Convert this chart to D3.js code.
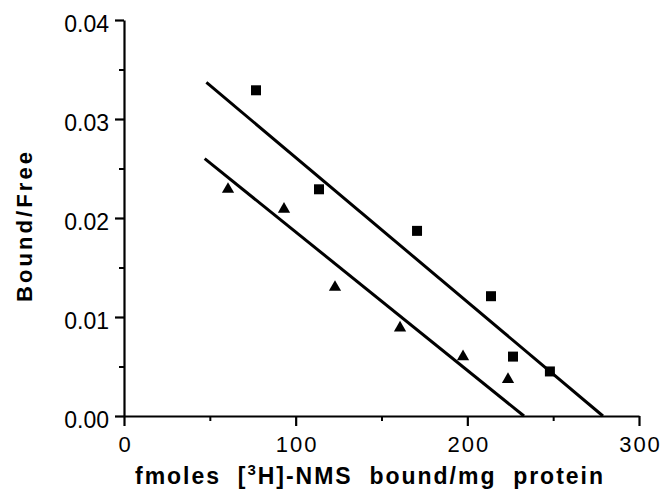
<!DOCTYPE html>
<html>
<head>
<meta charset="utf-8">
<script src="https://cdn.jsdelivr.net/npm/d3@7"></script>
<style>
  html, body { margin: 0; padding: 0; background: #fff; }
  svg { display: block; }
  text { font-family: "Liberation Sans", Arial, Helvetica, sans-serif; fill: #000; }
</style>
</head>
<body>
<svg id="chart" width="662" height="491"></svg>
<script>
// ---- data ----
const squareX = [76.9, 113.6, 170.7, 213.8, 226.6, 248.1];
const squareY = [0.0329, 0.0229, 0.0187, 0.0121, 0.0060, 0.0045];
const triangleX = [60.6, 93.2, 122.9, 160.8, 197.5, 223.7];
const triangleY = [0.0229, 0.0209, 0.0130, 0.0089, 0.0060, 0.0037];
const upperLineX = [48, 279];
const upperLineY = [0.0337, 0];
const lowerLineX = [47, 233];
const lowerLineY = [0.0260, 0];
const xTicks = [0, 100, 200, 300];
const xMinorTicks = [50, 150, 250];
const yTicks = [0, 0.01, 0.02, 0.03, 0.04];
const yMinorTicks = [0.005, 0.015, 0.025, 0.035];
const yTickLabels = ["0.00", "0.01", "0.02", "0.03", "0.04"];
const xTitleParts = ["fmoles  [", "3", "H]-NMS  bound/mg  protein"];
const yTitle = "Bound/Free";

// ---- layout ----
const svg = d3.select("#chart");
const x = d3.scaleLinear().domain([0, 300]).range([124, 639]);
const y = d3.scaleLinear().domain([0, 0.04]).range([416, 20]);

// minor ticks
const xMinor = svg.append("g").attr("transform", `translate(0,${y(0)})`)
  .call(d3.axisBottom(x).tickValues(xMinorTicks).tickSize(5).tickFormat(""));
const yMinor = svg.append("g").attr("transform", `translate(${x(0)},0)`)
  .call(d3.axisLeft(y).tickValues(yMinorTicks).tickSize(5).tickFormat(""));
[xMinor, yMinor].forEach(g => {
  g.select(".domain").remove();
  g.selectAll("line").attr("stroke", "#000").attr("stroke-width", 2);
});

// major axes
const xAxis = svg.append("g").attr("transform", `translate(0,${y(0)})`)
  .call(d3.axisBottom(x).tickValues(xTicks).tickSize(10).tickSizeOuter(0).tickFormat(d3.format("d")));
const yAxis = svg.append("g").attr("transform", `translate(${x(0)},0)`)
  .call(d3.axisLeft(y).tickValues(yTicks).tickSize(9).tickSizeOuter(0).tickFormat((d, i) => yTickLabels[i]));

[xAxis, yAxis].forEach(g => {
  g.select(".domain").attr("stroke", "#000").attr("stroke-width", 2.2);
  g.selectAll(".tick line").attr("stroke", "#000").attr("stroke-width", 2.2);
  g.selectAll("text").attr("font-family", null).attr("fill", "#000");
});
xAxis.selectAll(".tick text")
  .attr("font-size", 22).attr("letter-spacing", 2)
  .attr("y", 36).attr("dy", null).attr("dx", 1);
yAxis.selectAll(".tick text")
  .attr("font-size", 23).attr("x", -15).attr("dy", "0.48em");

// fit lines
const line = d3.line().x(d => x(d[0])).y(d => y(d[1]));
[[upperLineX, upperLineY], [lowerLineX, lowerLineY]].forEach(([xs, ys]) => {
  svg.append("path")
    .datum(xs.map((v, i) => [v, ys[i]]))
    .attr("d", line)
    .attr("fill", "none").attr("stroke", "#000").attr("stroke-width", 3);
});

// markers
const sq = d3.symbol().type(d3.symbolSquare).size(100);
svg.append("g").selectAll("path").data(squareX.map((v, i) => [v, squareY[i]]))
  .join("path").attr("d", sq)
  .attr("transform", d => `translate(${x(d[0])},${y(d[1])})`)
  .attr("fill", "#000");
const tri = d3.symbol().type(d3.symbolTriangle).size(65);
svg.append("g").selectAll("path").data(triangleX.map((v, i) => [v, triangleY[i]]))
  .join("path").attr("d", tri)
  .attr("transform", d => `translate(${x(d[0])},${y(d[1])})`)
  .attr("fill", "#000");

// axis titles
const xt = svg.append("text")
  .attr("x", 135).attr("y", 484)
  .attr("font-size", 23).attr("font-weight", "bold")
  .style("white-space", "pre")
  .attr("textLength", 468).attr("lengthAdjust", "spacing");
xt.append("tspan").text(xTitleParts[0]);
xt.append("tspan").attr("dy", -9).attr("font-size", 15).text(xTitleParts[1]);
xt.append("tspan").attr("dy", 9).text(xTitleParts[2]);

svg.append("text")
  .attr("transform", "translate(32,227) rotate(-90)")
  .attr("text-anchor", "middle")
  .attr("font-size", 22).attr("font-weight", "bold")
  .attr("textLength", 150).attr("lengthAdjust", "spacing")
  .text(yTitle);
</script>
</body>
</html>
